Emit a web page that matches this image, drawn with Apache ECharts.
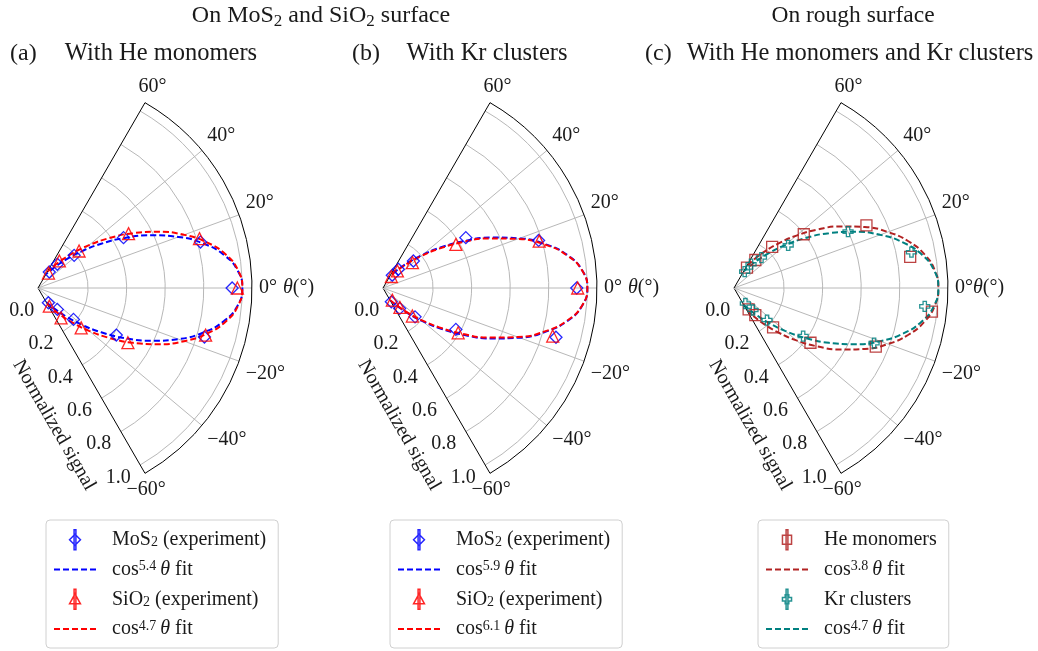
<!DOCTYPE html>
<html><head><meta charset="utf-8">
<script src="https://cdn.jsdelivr.net/npm/echarts@6/dist/echarts.min.js"></script>
<style>html,body{margin:0;padding:0;background:#fff}#c{width:1038px;height:651px}</style>
</head><body><div id="c"></div>
<script>
// ---------- data ----------
const angleTicks = [-60, -40, -20, 0, 20, 40, 60];
const radiusTicks = [0.0, 0.2, 0.4, 0.6, 0.8, 1.0];

// (a) He monomers
const aMoS2Angle = [0, 15.8, 30.5, 42.1, 50.8, 54.8, -16.4, -31.0, -41.5, -47.9, -55.0];
const aMoS2Value = [0.947, 0.816, 0.455, 0.193, 0.099, 0.042, 0.840, 0.414, 0.186, 0.090, 0.034];
const aSiO2Angle = [0, 17.0, 31.0, 42.0, 51.7, 55.0, -15.7, -31.3, -42.7, -52.3, -58.0];
const aSiO2Value = [0.974, 0.816, 0.488, 0.227, 0.119, 0.035, 0.843, 0.486, 0.245, 0.136, 0.051];
// (b) Kr clusters
const bMoS2Angle = [0, 17.0, 31.3, 41.6, 50.7, 53.8, -15.9, -29.6, -42.0, -50.8, -59.0];
const bMoS2Value = [0.945, 0.784, 0.443, 0.151, 0.066, 0.022, 0.873, 0.375, 0.164, 0.077, 0.024];
const bSiO2Angle = [0, 16.7, 30.9, 40.8, 49.9, 54.0, -15.8, -30.8, -43.7, -48.9, -52.4];
const bSiO2Value = [0.950, 0.786, 0.381, 0.142, 0.056, 0.014, 0.855, 0.394, 0.151, 0.074, 0.020];
// (c) rough surface
const cHeAngle = [-6.8, 10.0, 25.3, 37.6, 47.1, 52.7, 57.6, -22.5, -35.6, -45.2, -51.8, -55.7];
const cHeValue = [0.974, 0.868, 0.700, 0.397, 0.231, 0.123, 0.066, 0.736, 0.428, 0.228, 0.119, 0.075];
const cKrAngle = [-5.5, 11.4, 26.3, 38.2, 48.0, 54.4, 57.0, -21.5, -34.8, -44.1, -49.2, -53.7];
const cKrValue = [0.934, 0.879, 0.600, 0.298, 0.153, 0.092, 0.042, 0.721, 0.377, 0.179, 0.091, 0.040];

// fitted curves, read at 5 degree steps
const fitAngles = [-60,-55,-50,-45,-40,-35,-30,-25,-20,-15,-10,-5,0,5,10,15,20,25,30,35,40,45,50,55,60];
const fitCos54 = [0.0237,0.0497,0.0920,0.1539,0.2371,0.3405,0.4599,0.5879,0.7147,0.8293,0.9207,0.9796,1,0.9796,0.9207,0.8293,0.7147,0.5879,0.4599,0.3405,0.2371,0.1539,0.0920,0.0497,0.0237];
const fitCos47 = [0.0385,0.0733,0.1253,0.1962,0.2858,0.3915,0.5086,0.6298,0.7465,0.8496,0.9306,0.9822,1,0.9822,0.9306,0.8496,0.7465,0.6298,0.5086,0.3915,0.2858,0.1962,0.1253,0.0733,0.0385];
const fitCos59 = [0.0168,0.0376,0.0737,0.1294,0.2075,0.3081,0.4280,0.5597,0.6928,0.8150,0.9136,0.9777,1,0.9777,0.9136,0.8150,0.6928,0.5597,0.4280,0.3081,0.2075,0.1294,0.0737,0.0376,0.0168];
const fitCos61 = [0.0146,0.0337,0.0675,0.1207,0.1968,0.2961,0.4159,0.5488,0.6843,0.8094,0.9109,0.9770,1,0.9770,0.9109,0.8094,0.6843,0.5488,0.4159,0.2961,0.1968,0.1207,0.0675,0.0337,0.0146];
const fitCos38 = [0.0718,0.1210,0.1865,0.2679,0.3632,0.4685,0.5789,0.6881,0.7895,0.8766,0.9435,0.9856,1,0.9856,0.9435,0.8766,0.7895,0.6881,0.5789,0.4685,0.3632,0.2679,0.1865,0.1210,0.0718];

// ---------- layout / style ----------
const FONT = 'Liberation Serif';
const TXT = '#1a1a1a';
const CX = [38, 383, 734], CY = 288, R0 = 11.5, R1 = 214, RMAX = 1.05;
const GRID = '#b8b8b8';
const BLUE = '#0000ff', RED = '#ff0000', BRICK = '#b22222', TEAL = '#008080';
const FS = 20;

const pts = (vals, angs) => vals.map((v, i) => [v, angs[i]]);
const richText = {
  sub: {fontFamily: FONT, fontSize: 14, lineHeight: 14, verticalAlign: 'bottom', color: TXT},
  sup: {fontFamily: FONT, fontSize: 14, lineHeight: 14, verticalAlign: 'top', color: TXT, padding: [0, 4, 0, 0]},
  it: {fontFamily: FONT, fontSize: FS, fontStyle: 'italic', color: TXT},
  g: {width: 11}
};

const polar = [], angleAxis = [], radiusAxis = [];
function angleLabel(gap) {
  return function (v) {
    if (v === 0) return '0°' + (gap ? '{g| }' : '') + '{it|θ}(°)';
    if (v === 60) return '{e6|60°}';
    if (v === -60) return '{m6|\u221260°}';
    return (v < 0 ? '\u2212' + Math.abs(v) : String(v)) + '°';
  };
}
const angleRich = {
  it: {fontFamily: FONT, fontSize: FS, fontStyle: 'italic', color: TXT},
  g: {width: 6},
  e6: {fontFamily: FONT, fontSize: FS, color: TXT, padding: [0, 0, 0, -10]},
  m6: {fontFamily: FONT, fontSize: FS, color: TXT, padding: [0, 0, 0, -22]}
};
// grid polars (0..2): angle spokes, outer arc, angle labels
for (let i = 0; i < 3; i++) {
  polar.push({center: [CX[i], CY], radius: [0, R1]});
  angleAxis.push({
    polarIndex: i, type: 'value', min: angleTicks[0], max: angleTicks[angleTicks.length - 1], interval: 20,
    startAngle: -60, endAngle: 60, clockwise: false,
    axisLine: {show: true, lineStyle: {color: '#000', width: 1}},
    axisTick: {show: false},
    axisLabel: {show: true, margin: 7, fontFamily: FONT, fontSize: FS, color: TXT,
      formatter: angleLabel(i < 2), rich: angleRich},
    splitLine: {show: true, lineStyle: {color: ['#000', GRID, GRID, GRID, GRID, GRID, '#000'], width: 1}}
  });
  radiusAxis.push({polarIndex: i, type: 'value', min: 0, max: RMAX, show: false});
}
// data polars (3..5): rings, radial labels, data
for (let i = 0; i < 3; i++) {
  polar.push({center: [CX[i], CY], radius: [R0, R1]});
  angleAxis.push({
    polarIndex: 3 + i, type: 'value', min: -60, max: 60, interval: 20,
    startAngle: -60, endAngle: 60, clockwise: false, show: false,
    axisLine: {show: false}, axisTick: {show: false}, axisLabel: {show: false}, splitLine: {show: false}
  });
  radiusAxis.push({
    polarIndex: 3 + i, type: 'value', min: radiusTicks[0], max: RMAX, interval: 0.2,
    axisLine: {show: false}, axisTick: {show: false},
    axisLabel: {show: true, margin: -11, align: 'right', verticalAlign: 'top', lineHeight: 14, showMaxLabel: false,
      fontFamily: FONT, fontSize: FS, color: TXT, formatter: v => v.toFixed(1)},
    splitLine: {show: true, lineStyle: {color: ['rgba(0,0,0,0)', GRID, GRID, GRID, GRID, GRID, 'rgba(0,0,0,0)'], width: 1}},
    name: 'Normalized signal', nameLocation: 'middle', nameGap: 44,
    nameTextStyle: {fontFamily: FONT, fontSize: FS, color: TXT, padding: [0, 0, 0, 28]}
  });
}

function scatter(name, pIdx, vals, angs, symbol, size, color) {
  return {type: 'scatter', name, coordinateSystem: 'polar', polarIndex: pIdx, data: pts(vals, angs),
    symbol, symbolSize: size, z: 4,
    itemStyle: {color: 'rgba(0,0,0,0)', borderColor: color, borderWidth: 1.3, opacity: 0.85}};
}
function fit(name, pIdx, vals, color) {
  return {type: 'line', name, coordinateSystem: 'polar', polarIndex: pIdx, data: pts(vals, fitAngles),
    symbol: 'none', showSymbol: false, smooth: true, z: 3,
    lineStyle: {color, width: 2, type: [6, 3]}, itemStyle: {color}};
}
const PLUS = 'path://M3,0H6V3H9V6H6V9H3V6H0V3H3Z';
const series = [
  scatter('aMoS2', 3, aMoS2Value, aMoS2Angle, 'diamond', 12, BLUE),
  fit('aFit1', 3, fitCos54, BLUE),
  scatter('aSiO2', 3, aSiO2Value, aSiO2Angle, 'triangle', 12, RED),
  fit('aFit2', 3, fitCos47, RED),
  scatter('bMoS2', 4, bMoS2Value, bMoS2Angle, 'diamond', 12, BLUE),
  fit('bFit1', 4, fitCos59, BLUE),
  scatter('bSiO2', 4, bSiO2Value, bSiO2Angle, 'triangle', 12, RED),
  fit('bFit2', 4, fitCos61, RED),
  scatter('cHe', 5, cHeValue, cHeAngle, 'rect', 11, BRICK),
  fit('cFit1', 5, fitCos38, BRICK),
  scatter('cKr', 5, cKrValue, cKrAngle, PLUS, 10, TEAL),
  fit('cFit2', 5, fitCos47, TEAL)
];

const legendText = {
  aMoS2: '{g| }MoS{sub|2} (experiment)', aFit1: '{g| }cos{sup|5.4}{it|θ} fit',
  aSiO2: '{g| }SiO{sub|2} (experiment)', aFit2: '{g| }cos{sup|4.7}{it|θ} fit',
  bMoS2: '{g| }MoS{sub|2} (experiment)', bFit1: '{g| }cos{sup|5.9}{it|θ} fit',
  bSiO2: '{g| }SiO{sub|2} (experiment)', bFit2: '{g| }cos{sup|6.1}{it|θ} fit',
  cHe: '{g| }He monomers', cFit1: '{g| }cos{sup|3.8}{it|θ} fit',
  cKr: '{g| }Kr clusters', cFit2: '{g| }cos{sup|4.7}{it|θ} fit'
};
const ICON_D = 'path://M7,0H9V22H7Z M8,5L14,11L8,17L2,11Z';
const ICON_T = 'path://M7,0H9V22H7Z M8,5L14,16L2,16Z';
const ICON_S = 'path://M7,0H9V22H7Z M3,6H13V16H3Z';
const ICON_P = 'path://M7,0H9V22H7Z M6,6H10V9H13V13H10V16H6V13H3V9H6Z';
const ICON_DASH = 'path://M0,0H6V2H0Z M9,0H15V2H9Z M18,0H24V2H18Z M27,0H33V2H27Z M36,0H42V2H36Z';
function mkLegend(left, names, icons, colors) {
  return {
    left, top: 520, orient: 'vertical', selectedMode: false,
    data: names.map((n, k) => icons[k]
      ? {name: n, icon: icons[k], itemStyle: {color: 'rgba(0,0,0,0)', borderColor: colors[k], borderWidth: 1.5}}
      : {name: n, icon: ICON_DASH, itemStyle: {color: colors[k], borderWidth: 0}}),
    formatter: n => legendText[n],
    itemWidth: 42, itemHeight: 20, itemGap: 9,
    padding: [9, 12, 9, 8], borderColor: '#d0d0d0', borderWidth: 1, borderRadius: 4, backgroundColor: '#fff',
    textStyle: {fontFamily: FONT, fontSize: FS, color: TXT, lineHeight: 20, rich: richText}
  };
}
const legend = [
  mkLegend(46, ['aMoS2', 'aFit1', 'aSiO2', 'aFit2'], [ICON_D, null, ICON_T, null], [BLUE, BLUE, RED, RED]),
  mkLegend(390, ['bMoS2', 'bFit1', 'bSiO2', 'bFit2'], [ICON_D, null, ICON_T, null], [BLUE, BLUE, RED, RED]),
  mkLegend(758, ['cHe', 'cFit1', 'cKr', 'cFit2'], [ICON_S, null, ICON_P, null], [BRICK, BRICK, TEAL, TEAL])
];

const titleRich = {
  s: {fontFamily: FONT, fontSize: 17, lineHeight: 14, verticalAlign: 'bottom', fill: TXT}
};
function gtext(x, y, text, align, size) {
  return {type: 'text', x, y, silent: true,
    style: {text, align, verticalAlign: 'middle', fontFamily: FONT, fontSize: size, fill: TXT, lineHeight: 28, rich: titleRich}};
}
const graphic = [
  gtext(321, 16, 'On MoS{s|2} and SiO{s|2} surface', 'center', 24),
  gtext(853, 16, 'On rough surface', 'center', 23.5),
  gtext(10, 54, '(a)', 'left', 24),
  gtext(161, 54, 'With He monomers', 'center', 24.5),
  gtext(352, 54, '(b)', 'left', 24),
  gtext(487, 54, 'With Kr clusters', 'center', 24.5),
  gtext(645, 54, '(c)', 'left', 24),
  gtext(860, 54, 'With He monomers and Kr clusters', 'center', 24.5)
];

const chart = echarts.init(document.getElementById('c'), null, {renderer: 'canvas'});
chart.setOption({
  animation: false, backgroundColor: '#fff',
  polar, angleAxis, radiusAxis, series, legend, graphic
});
</script></body></html>
